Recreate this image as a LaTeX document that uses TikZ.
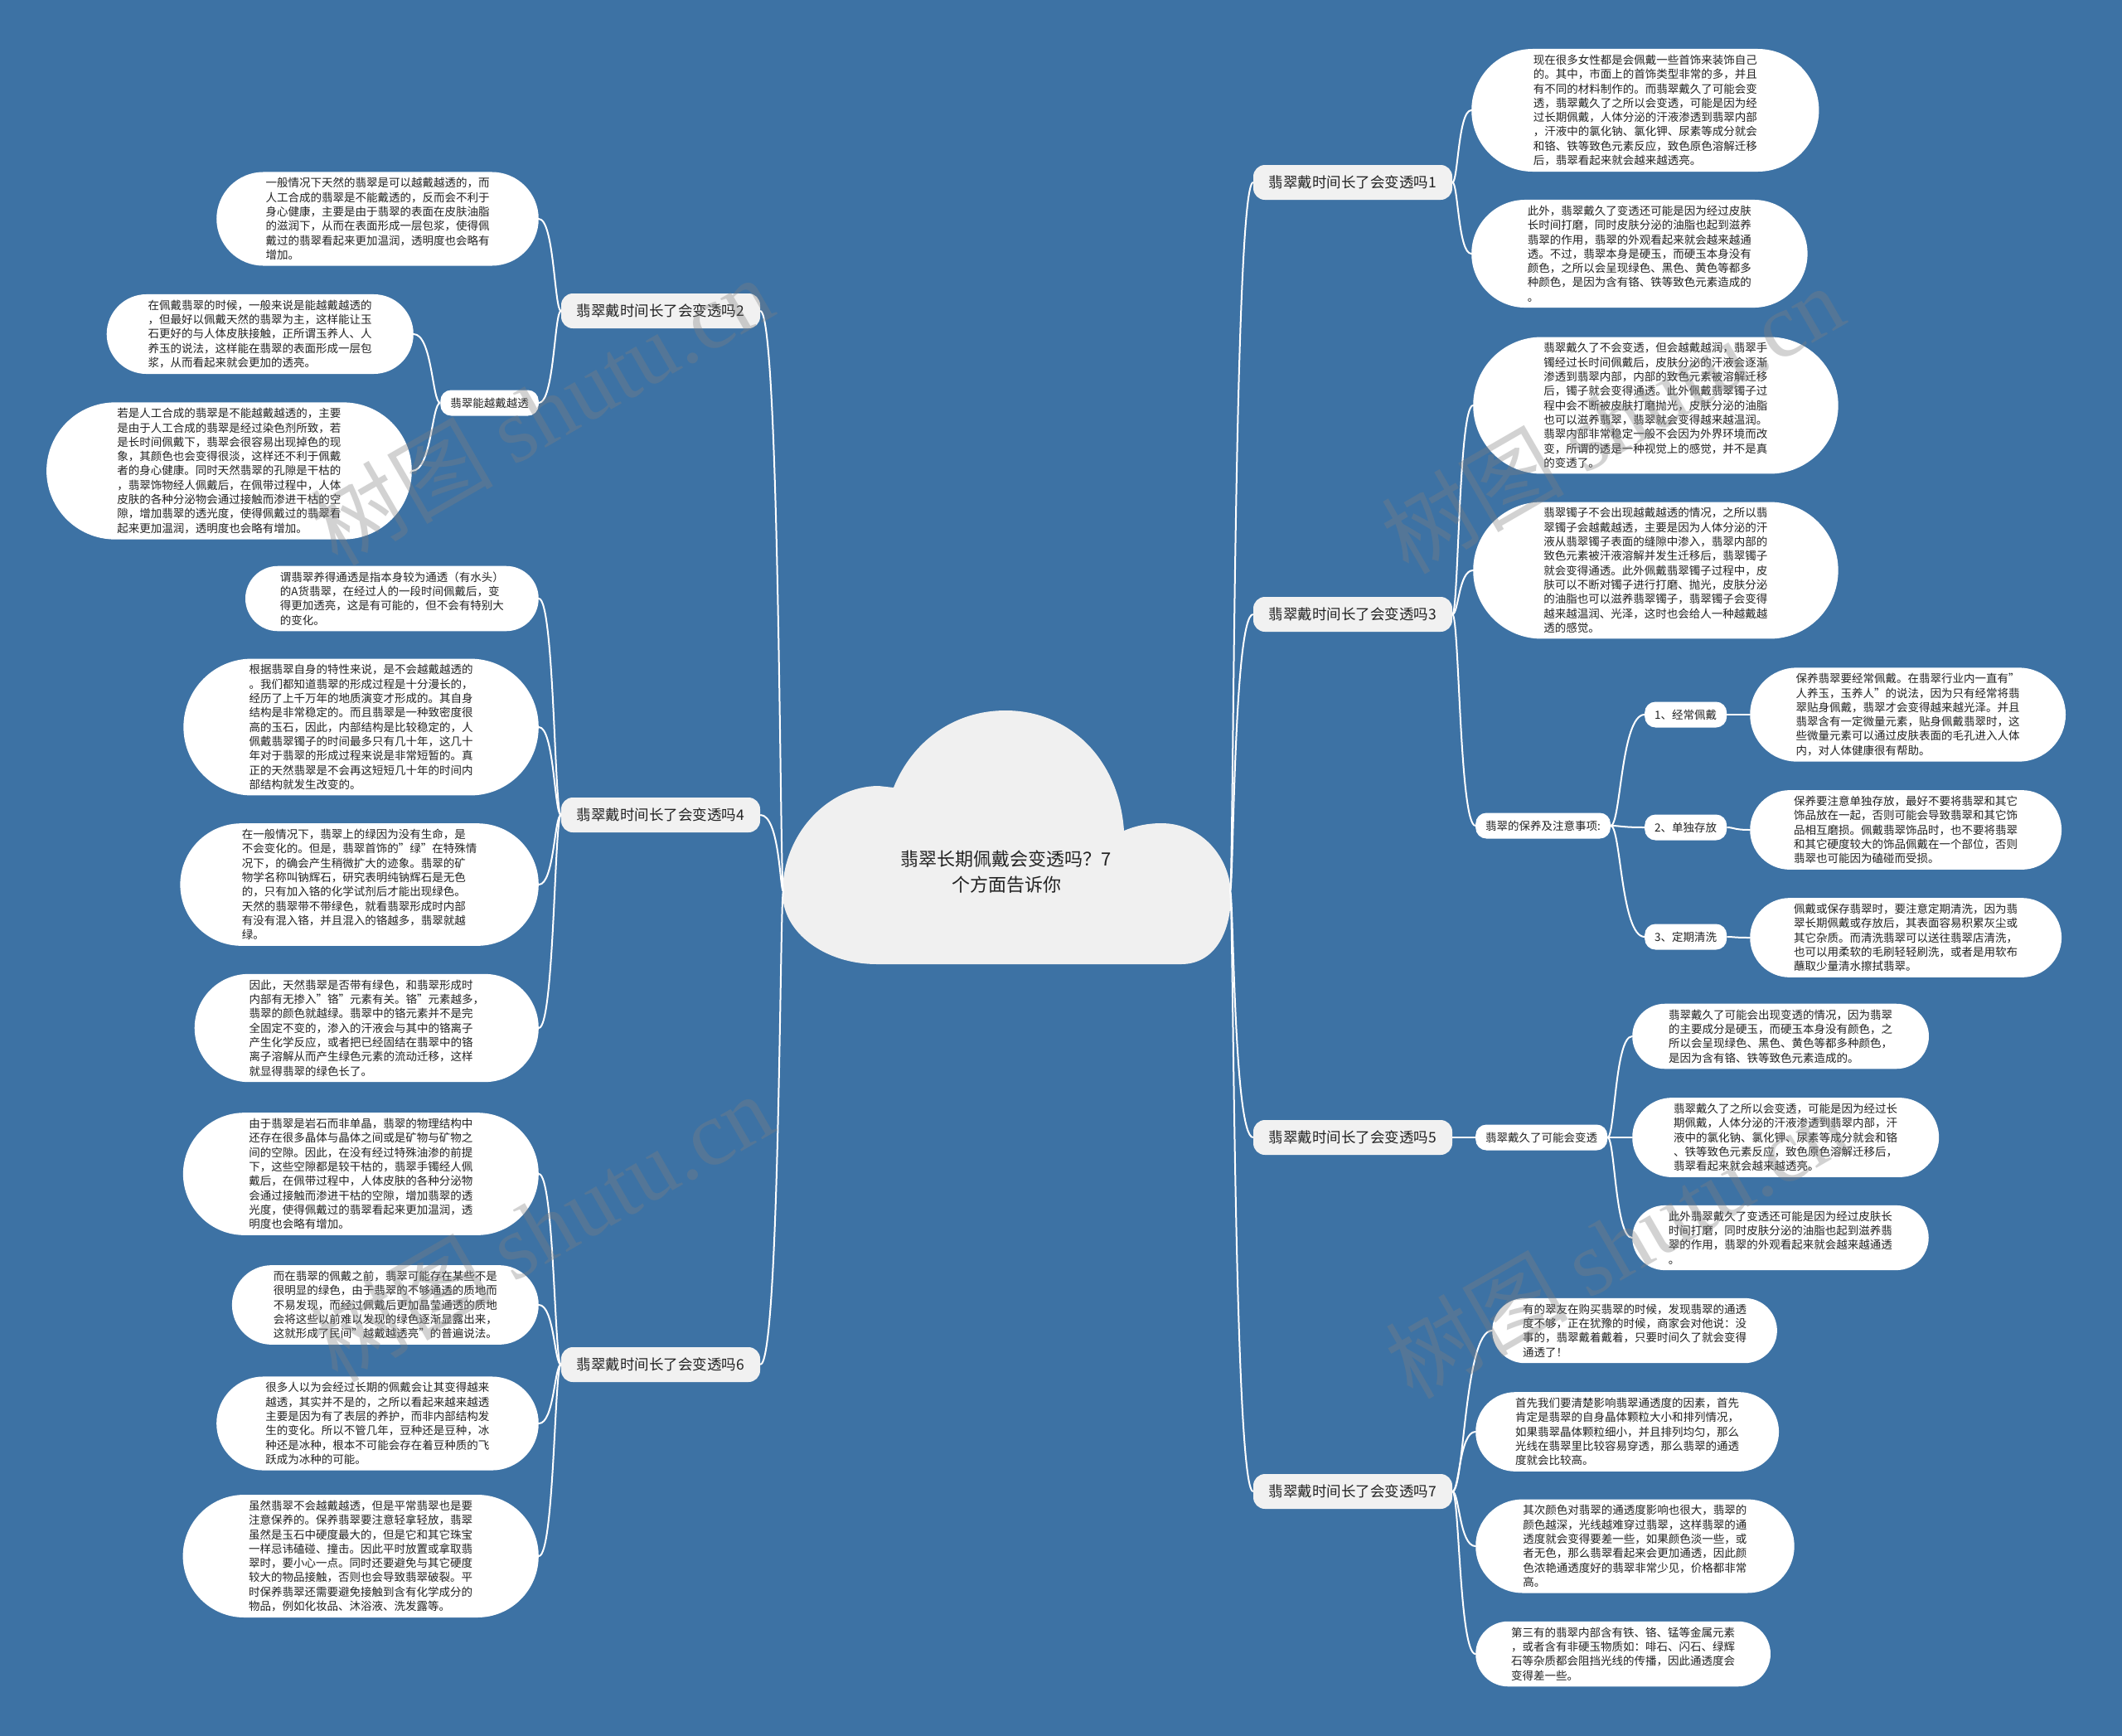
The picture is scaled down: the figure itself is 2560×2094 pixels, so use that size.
\documentclass[tikz,border=0pt]{standalone}
\usepackage{fontspec}
\setmainfont{Noto Sans CJK SC}
\newfontfamily\wmfont{Liberation Serif}
\usetikzlibrary{shapes.misc,calc}
\definecolor{bg}{RGB}{61,114,164}
\definecolor{lab}{RGB}{241,241,241}
\definecolor{txt}{RGB}{34,34,34}
\definecolor{cloudc}{RGB}{240,240,240}
\newcommand\mmlink[3][0.3]{\draw[link] let \p1=(#2), \p2=(#3) in (\p1) .. controls ({\x1+#1*(\x2-\x1)},\y1) and ({\x1+#1*(\x2-\x1)},\y2) .. (\p2);}
\begin{document}
\begin{tikzpicture}[x=1pt,y=-1pt,
  every node/.style={text=txt},
  para/.style={rounded rectangle, fill=white, align=left, inner xsep=#1, inner ysep=7pt, font=\fontsize{13.5pt}{17.3pt}\selectfont},
  para/.default=36pt,
  branch/.style={rectangle, rounded corners=14pt, fill=lab, minimum width=240pt, minimum height=42pt, font=\fontsize{17.5pt}{21pt}\selectfont},
  subn/.style={rectangle, rounded corners=13pt, fill=white, minimum height=31pt, inner xsep=12pt, font=\fontsize{13.5pt}{16pt}\selectfont},
  link/.style={draw=white, line width=2pt},
  wm/.style={text=gray, opacity=0.35, font=\fontsize{110pt}{110pt}\selectfont, rotate=30}
]
\fill[bg] (0,0) rectangle (2560,2094);
\useasboundingbox (0,0) rectangle (2560,2094);

% cloud
\fill[cloudc] (1058,1163) .. controls (995,1163) and (944,1125) .. (944,1077)
 .. controls (944,1005) and (1000,948) .. (1060,948)
 -- (1078,950)
 .. controls (1100,895) and (1150,857) .. (1213,857)
 .. controls (1290,857) and (1350,915) .. (1356,1002)
 .. controls (1370,996) and (1385,993) .. (1401,993)
 .. controls (1450,993) and (1485,1035) .. (1485,1080)
 .. controls (1485,1125) and (1465,1163) .. (1425,1163) -- cycle;
\node[align=center, font=\fontsize{22pt}{31pt}\selectfont] (root) at (1214,1052) {翡翠长期佩戴会变透吗？7\\个方面告诉你};
\coordinate (cL) at (945,1075);
\coordinate (cR) at (1484,1075);

% branches
\node[branch] (L2) at (797,375) {翡翠戴时间长了会变透吗2};
\node[branch] (L4) at (797,983) {翡翠戴时间长了会变透吗4};
\node[branch] (L6) at (797,1646) {翡翠戴时间长了会变透吗6};
\node[branch] (R1) at (1632,220) {翡翠戴时间长了会变透吗1};
\node[branch] (R3) at (1632,741) {翡翠戴时间长了会变透吗3};
\node[branch] (R5) at (1632,1372) {翡翠戴时间长了会变透吗5};
\node[branch] (R7) at (1632,1799) {翡翠戴时间长了会变透吗7};

% left 2
\node[para=30pt, anchor=east] (L2a) at (650,264) {一般情况下天然的翡翠是可以越戴越透的，而\\人工合成的翡翠是不能戴透的，反而会不利于\\身心健康，主要是由于翡翠的表面在皮肤油脂\\的滋润下，从而在表面形成一层包浆，使得佩\\戴过的翡翠看起来更加温润，透明度也会略有\\增加。};
\node[subn, anchor=east] (L2s) at (650,486) {翡翠能越戴越透};
\node[para=27pt, anchor=east] (L2b) at (499,403) {在佩戴翡翠的时候，一般来说是能越戴越透的\\，但最好以佩戴天然的翡翠为主，这样能让玉\\石更好的与人体皮肤接触，正所谓玉养人、人\\养玉的说法，这样能在翡翠的表面形成一层包\\浆，从而看起来就会更加的透亮。};
\node[para, anchor=east] (L2c) at (497,568) {若是人工合成的翡翠是不能越戴越透的，主要\\是由于人工合成的翡翠是经过染色剂所致，若\\是长时间佩戴下，翡翠会很容易出现掉色的现\\象，其颜色也会变得很淡，这样还不利于佩戴\\者的身心健康。同时天然翡翠的孔隙是干枯的\\，翡翠饰物经人佩戴后，在佩带过程中，人体\\皮肤的各种分泌物会通过接触而渗进干枯的空\\隙，增加翡翠的透光度，使得佩戴过的翡翠看\\起来更加温润，透明度也会略有增加。};

% left 4
\node[para=25pt, anchor=east] (L4a) at (650,722) {谓翡翠养得通透是指本身较为通透（有水头）\\的A货翡翠，在经过人的一段时间佩戴后，变\\得更加透亮，这是有可能的，但不会有特别大\\的变化。};
\node[para=30pt, anchor=east] (L4b) at (650,877) {根据翡翠自身的特性来说，是不会越戴越透的\\。我们都知道翡翠的形成过程是十分漫长的，\\经历了上千万年的地质演变才形成的。其自身\\结构是非常稳定的。而且翡翠是一种致密度很\\高的玉石，因此，内部结构是比较稳定的，人\\佩戴翡翠镯子的时间最多只有几十年，这几十\\年对于翡翠的形成过程来说是非常短暂的。真\\正的天然翡翠是不会再这短短几十年的时间内\\部结构就发生改变的。};
\node[para=32pt, anchor=east] (L4c) at (650,1067) {在一般情况下，翡翠上的绿因为没有生命，是\\不会变化的。但是，翡翠首饰的"绿"在特殊情\\况下，的确会产生稍微扩大的迹象。翡翠的矿\\物学名称叫钠辉石，研究表明纯钠辉石是无色\\的，只有加入铬的化学试剂后才能出现绿色。\\天然的翡翠带不带绿色，就看翡翠形成时内部\\有没有混入铬，并且混入的铬越多，翡翠就越\\绿。};
\node[para=30pt, anchor=east] (L4d) at (650,1240) {因此，天然翡翠是否带有绿色，和翡翠形成时\\内部有无掺入"铬"元素有关。铬"元素越多，\\翡翠的颜色就越绿。翡翠中的铬元素并不是完\\全固定不变的，渗入的汗液会与其中的铬离子\\产生化学反应，或者把已经固结在翡翠中的铬\\离子溶解从而产生绿色元素的流动迁移，这样\\就显得翡翠的绿色长了。};

% left 6
\node[para=37pt, anchor=east] (L6a) at (650,1416) {由于翡翠是岩石而非单晶，翡翠的物理结构中\\还存在很多晶体与晶体之间或是矿物与矿物之\\间的空隙。因此，在没有经过特殊油渗的前提\\下，这些空隙都是较干枯的，翡翠手镯经人佩\\戴后，在佩带过程中，人体皮肤的各种分泌物\\会通过接触而渗进干枯的空隙，增加翡翠的透\\光度，使得佩戴过的翡翠看起来更加温润，透\\明度也会略有增加。};
\node[para=27pt, anchor=east] (L6b) at (650,1574) {而在翡翠的佩戴之前，翡翠可能存在某些不是\\很明显的绿色，由于翡翠的不够通透的质地而\\不易发现，而经过佩戴后更加晶莹通透的质地\\会将这些以前难以发现的绿色逐渐显露出来，\\这就形成了民间"越戴越透亮"的普遍说法。};
\node[para=30pt, anchor=east] (L6c) at (650,1717) {很多人以为会经过长期的佩戴会让其变得越来\\越透，其实并不是的，之所以看起来越来越透\\主要是因为有了表层的养护，而非内部结构发\\生的变化。所以不管几年，豆种还是豆种，冰\\种还是冰种，根本不可能会存在着豆种质的飞\\跃成为冰种的可能。};
\node[para=37pt, anchor=east] (L6d) at (650,1877) {虽然翡翠不会越戴越透，但是平常翡翠也是要\\注意保养的。保养翡翠要注意轻拿轻放，翡翠\\虽然是玉石中硬度最大的，但是它和其它珠宝\\一样忌讳磕碰、撞击。因此平时放置或拿取翡\\翠时，要小心一点。同时还要避免与其它硬度\\较大的物品接触，否则也会导致翡翠破裂。平\\时保养翡翠还需要避免接触到含有化学成分的\\物品，例如化妆品、沐浴液、洗发露等。};

% right 1
\node[para=32pt, anchor=west] (R1a) at (1775,133) {现在很多女性都是会佩戴一些首饰来装饰自己\\的。其中，市面上的首饰类型非常的多，并且\\有不同的材料制作的。而翡翠戴久了可能会变\\透，翡翠戴久了之所以会变透，可能是因为经\\过长期佩戴，人体分泌的汗液渗透到翡翠内部\\，汗液中的氯化钠、氯化钾、尿素等成分就会\\和铬、铁等致色元素反应，致色原色溶解迁移\\后，翡翠看起来就会越来越透亮。};
\node[para=32pt, anchor=west] (R1b) at (1775,306) {此外，翡翠戴久了变透还可能是因为经过皮肤\\长时间打磨，同时皮肤分泌的油脂也起到滋养\\翡翠的作用，翡翠的外观看起来就会越来越通\\透。不过，翡翠本身是硬玉，而硬玉本身没有\\颜色，之所以会呈现绿色、黑色、黄色等都多\\种颜色，是因为含有铬、铁等致色元素造成的\\。};

% right 3
\node[para, anchor=west] (R3a) at (1777,489) {翡翠戴久了不会变透，但会越戴越润，翡翠手\\镯经过长时间佩戴后，皮肤分泌的汗液会逐渐\\渗透到翡翠内部，内部的致色元素被溶解迁移\\后，镯子就会变得通透。此外佩戴翡翠镯子过\\程中会不断被皮肤打磨抛光，皮肤分泌的油脂\\也可以滋养翡翠，翡翠就会变得越来越温润。\\翡翠内部非常稳定一般不会因为外界环境而改\\变，所谓的透是一种视觉上的感觉，并不是真\\的变透了。};
\node[para, anchor=west] (R3b) at (1777,688) {翡翠镯子不会出现越戴越透的情况，之所以翡\\翠镯子会越戴越透，主要是因为人体分泌的汗\\液从翡翠镯子表面的缝隙中渗入，翡翠内部的\\致色元素被汗液溶解并发生迁移后，翡翠镯子\\就会变得通透。此外佩戴翡翠镯子过程中，皮\\肤可以不断对镯子进行打磨、抛光，皮肤分泌\\的油脂也可以滋养翡翠镯子，翡翠镯子会变得\\越来越温润、光泽，这时也会给人一种越戴越\\透的感觉。};
\node[subn, anchor=west] (R3s) at (1780,996) {翡翠的保养及注意事项:};
\node[subn, anchor=west] (K1) at (1984,862) {1、经常佩戴};
\node[subn, anchor=west] (K2) at (1984,998) {2、单独存放};
\node[subn, anchor=west] (K3) at (1984,1130) {3、定期清洗};
\node[para=26pt, anchor=west] (C1) at (2111,862) {保养翡翠要经常佩戴。在翡翠行业内一直有"\\人养玉，玉养人"的说法，因为只有经常将翡\\翠贴身佩戴，翡翠才会变得越来越光泽。并且\\翡翠含有一定微量元素，贴身佩戴翡翠时，这\\些微量元素可以通过皮肤表面的毛孔进入人体\\内，对人体健康很有帮助。};
\node[para=30pt, anchor=west] (C2) at (2111,1001) {保养要注意单独存放，最好不要将翡翠和其它\\饰品放在一起，否则可能会导致翡翠和其它饰\\品相互磨损。佩戴翡翠饰品时，也不要将翡翠\\和其它硬度较大的饰品佩戴在一个部位，否则\\翡翠也可能因为磕碰而受损。};
\node[para=30pt, anchor=west] (C3) at (2111,1131) {佩戴或保存翡翠时，要注意定期清洗，因为翡\\翠长期佩戴或存放后，其表面容易积累灰尘或\\其它杂质。而清洗翡翠可以送往翡翠店清洗，\\也可以用柔软的毛刷轻轻刷洗，或者是用软布\\蘸取少量清水擦拭翡翠。};

% right 5
\node[subn, anchor=west] (R5s) at (1780,1372) {翡翠戴久了可能会变透};
\node[para=27pt, anchor=west] (R5a) at (1969,1250) {翡翠戴久了可能会出现变透的情况，因为翡翠\\的主要成分是硬玉，而硬玉本身没有颜色，之\\所以会呈现绿色、黑色、黄色等都多种颜色，\\是因为含有铬、铁等致色元素造成的。};
\node[para=27pt, anchor=west] (R5b) at (1969,1372) {翡翠戴久了之所以会变透，可能是因为经过长\\期佩戴，人体分泌的汗液渗透到翡翠内部，汗\\液中的氯化钠、氯化钾、尿素等成分就会和铬\\、铁等致色元素反应，致色原色溶解迁移后，\\翡翠看起来就会越来越透亮。};
\node[para=27pt, anchor=west] (R5c) at (1969,1493) {此外翡翠戴久了变透还可能是因为经过皮肤长\\时间打磨，同时皮肤分泌的油脂也起到滋养翡\\翠的作用，翡翠的外观看起来就会越来越通透\\。};

% right 7
\node[para=20pt, anchor=west] (R7a) at (1800,1605) {有的翠友在购买翡翠的时候，发现翡翠的通透\\度不够，正在犹豫的时候，商家会对他说：没\\事的，翡翠戴着戴着，只要时间久了就会变得\\通透了！};
\node[para=25pt, anchor=west] (R7b) at (1780,1727) {首先我们要清楚影响翡翠通透度的因素，首先\\肯定是翡翠的自身晶体颗粒大小和排列情况，\\如果翡翠晶体颗粒细小，并且排列均匀，那么\\光线在翡翠里比较容易穿透，那么翡翠的通透\\度就会比较高。};
\node[para=28pt, anchor=west] (R7c) at (1780,1865) {其次颜色对翡翠的通透度影响也很大，翡翠的\\颜色越深，光线越难穿过翡翠，这样翡翠的通\\透度就会变得要差一些，如果颜色淡一些，或\\者无色，那么翡翠看起来会更加通透，因此颜\\色浓艳通透度好的翡翠非常少见，价格都非常\\高。};
\node[para=26pt, anchor=west] (R7d) at (1780,1995) {第三有的翡翠内部含有铁、铬、锰等金属元素\\，或者含有非硬玉物质如：啡石、闪石、绿辉\\石等杂质都会阻挡光线的传播，因此通透度会\\变得差一些。};

% links
\mmlink[0.15]{cL}{L2.east}
\mmlink[0.15]{cL}{L4.east}
\mmlink[0.15]{cL}{L6.east}
\mmlink[0.15]{cR}{R1.west}
\mmlink[0.15]{cR}{R3.west}
\mmlink[0.15]{cR}{R5.west}
\mmlink[0.15]{cR}{R7.west}
\mmlink{L2.west}{L2a.east}
\mmlink{L2.west}{L2s.east}
\mmlink{L2s.west}{L2b.east}
\mmlink{L2s.west}{L2c.east}
\mmlink{L4.west}{L4a.east}
\mmlink{L4.west}{L4b.east}
\mmlink{L4.west}{L4c.east}
\mmlink{L4.west}{L4d.east}
\mmlink{L6.west}{L6a.east}
\mmlink{L6.west}{L6b.east}
\mmlink{L6.west}{L6c.east}
\mmlink{L6.west}{L6d.east}
\mmlink{R1.east}{R1a.west}
\mmlink{R1.east}{R1b.west}
\mmlink{R3.east}{R3a.west}
\mmlink{R3.east}{R3b.west}
\mmlink{R3.east}{R3s.west}
\mmlink{R3s.east}{K1.west}
\mmlink{R3s.east}{K2.west}
\mmlink{R3s.east}{K3.west}
\mmlink{K1.east}{C1.west}
\mmlink{K2.east}{C2.west}
\mmlink{K3.east}{C3.west}
\mmlink{R5.east}{R5s.west}
\mmlink{R5s.east}{R5a.west}
\mmlink{R5s.east}{R5b.west}
\mmlink{R5s.east}{R5c.west}
\mmlink{R7.east}{R7a.west}
\mmlink{R7.east}{R7b.west}
\mmlink{R7.east}{R7c.west}
\mmlink{R7.east}{R7d.west}

% watermarks
\node[wm] (w1) at (653,495) {树图 {\wmfont shutu.cn}};
\node[wm] (w2) at (1945,505) {树图 {\wmfont shutu.cn}};
\node[wm] (w3) at (653,1480) {树图 {\wmfont shutu.cn}};
\node[wm] (w4) at (1950,1500) {树图 {\wmfont shutu.cn}};
\end{tikzpicture}
\end{document}
